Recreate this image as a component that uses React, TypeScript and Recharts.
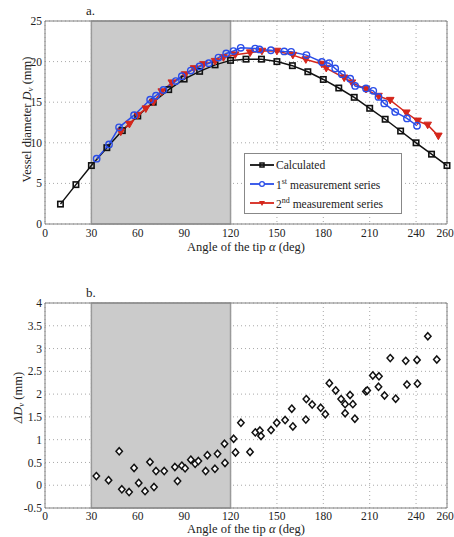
import React from "react";
import {
  ComposedChart,
  ScatterChart,
  Line,
  Scatter,
  XAxis,
  YAxis,
  CartesianGrid,
  ReferenceArea,
  Legend,
} from "recharts";

const FONT = "Liberation Serif, Times New Roman, Times, DejaVu Serif, serif";

// panel a: calculated diameter
const calcAngle = [10, 20, 30, 40, 50, 60, 70, 80, 90, 100, 110, 120, 130, 140, 150, 160, 170, 180, 190, 200, 210, 220, 230, 240, 250, 260];
const calcDiameter = [2.45, 4.85, 7.2, 9.4, 11.5, 13.3, 15.0, 16.55, 17.85, 18.8, 19.6, 20.15, 20.3, 20.3, 20.0, 19.5, 18.75, 17.8, 16.75, 15.6, 14.25, 12.9, 11.45, 10.0, 8.6, 7.2];

// 1st measurement series
const meas1Angle = [33.4, 41.4, 47.9, 57.6, 68, 71.8, 76.6, 84.6, 88.5, 94.3, 99.9, 105.9, 112.2, 117.2, 121.9, 126.6, 135.9, 138.7, 146.1, 154.7, 159.2, 169.1, 179.1, 183.8, 187.7, 192, 197.4, 200.6, 207.6, 212.3, 215.7, 219.4, 226.5, 234.1, 240.6];
const meas1Diameter = [8.05, 9.8, 11.9, 13.4, 15.3, 15.8, 16.5, 17.6, 18.2, 18.9, 19.4, 19.8, 20.5, 21.0, 21.3, 21.7, 21.6, 21.5, 21.4, 21.25, 21.2, 20.8, 19.95, 19.8, 19.15, 18.45, 17.9, 17.0, 16.7, 16.4, 15.65, 14.85, 13.8, 13.0, 12.1];

// 2nd measurement series
const meas2Angle = [49, 54.6, 60, 65.2, 70.1, 75.5, 82, 90.6, 96.4, 102.5, 110, 115.4, 123, 132.7, 140.3, 150, 160.3, 168.7, 179.1, 181.9, 193.5, 198.5, 207.6, 215.7, 223.3, 233.7, 241, 247.5, 254.4];
const meas2Diameter = [11.35, 12.3, 13.4, 14.2, 15.0, 16.3, 17.4, 18.4, 19.15, 19.65, 20.05, 20.5, 20.85, 21.1, 21.3, 21.3, 20.8, 20.25, 19.7, 19.2, 18.0, 17.4, 16.6, 15.75, 15.25, 13.7, 12.7, 12.2, 10.85];

// panel b: difference
const deltaAngle = [33.2, 41.1, 48, 49.7, 54.4, 57.6, 60.6, 64.7, 67.9, 70.5, 71.8, 77.1, 84, 85.7, 88.5, 90.6, 94.3, 97.1, 99.2, 103.9, 105, 109.9, 111.6, 116.1, 116.4, 122, 123.2, 126.7, 132.6, 136, 139, 139.7, 146.2, 149.9, 155.3, 159.6, 160.3, 168.7, 169, 172.8, 178.3, 181.3, 183.9, 188, 191.5, 194.1, 194.1, 197.3, 199.1, 200.4, 207.5, 208.4, 212, 216, 215.7, 219.6, 223.3, 226.8, 233.3, 234.1, 240.6, 240.9, 247.6, 253.4];
const deltaValue = [0.2, 0.11, 0.745, -0.09, -0.15, 0.38, 0.05, -0.13, 0.51, -0.04, 0.31, 0.31, 0.4, 0.09, 0.43, 0.37, 0.56, 0.47, 0.53, 0.31, 0.66, 0.36, 0.69, 0.91, 0.49, 1.02, 0.72, 1.37, 0.73, 1.16, 1.2, 1.08, 1.21, 1.37, 1.43, 1.68, 1.29, 1.44, 1.89, 1.77, 1.7, 1.56, 2.24, 2.08, 1.89, 1.78, 1.58, 1.98, 1.78, 1.46, 2.06, 2.08, 2.41, 2.39, 2.16, 1.97, 2.79, 1.9, 2.73, 2.21, 2.75, 2.23, 3.27, 2.76];

const xTicks = [0, 30, 60, 90, 120, 150, 180, 210, 240, 260];
const topYTicks = [0, 5, 10, 15, 20, 25];
const bottomYTicks = [-0.5, 0, 0.5, 1, 1.5, 2, 2.5, 3, 3.5, 4];
const shadeFrom = 30;
const shadeTo = 120;

const calcData = calcAngle.map((a, i) => ({ angle: a, d: calcDiameter[i] }));
const meas1Data = meas1Angle.map((a, i) => ({ angle: a, d: meas1Diameter[i] }));
const meas2Data = meas2Angle.map((a, i) => ({ angle: a, d: meas2Diameter[i] }));
const deltaData = deltaAngle.map((a, i) => ({ angle: a, delta: deltaValue[i] }));

const BLACK = "#111";
const BLUE = "#2a4de8";
const RED = "#d5261b";
const tickStyle = { fontSize: 11.5, fill: "#222", fontFamily: FONT };

// x tick: keep the last label inside the page
const XTick = (props: any) => {
  const x = Math.min(props.x, 445);
  return (
    <text x={x} y={props.y} dy="0.71em" textAnchor="middle" fontSize={11.5} fill="#222" style={{ fontFamily: FONT }}>
      {props.payload.value}
    </text>
  );
};

const squareDot = (p: any) => (
  <rect key={`s-${p.index}`} x={p.cx - 2.7} y={p.cy - 2.7} width={5.4} height={5.4} fill="none" stroke={BLACK} strokeWidth={1.6} />
);
const circleDot = (p: any) => (
  <circle key={`c-${p.index}`} cx={p.cx} cy={p.cy} r={3.2} fill="none" stroke={BLUE} strokeWidth={1.4} />
);
const triDot = (p: any) => (
  <path key={`t-${p.index}`} d={`M${p.cx - 3.8},${p.cy - 2.8}L${p.cx + 3.8},${p.cy - 2.8}L${p.cx},${p.cy + 3.8}Z`} fill={RED} stroke={RED} strokeWidth={1} />
);
const diamond = (p: any) => (
  <path d={`M${p.cx},${p.cy - 3.6}L${p.cx + 3.2},${p.cy}L${p.cx},${p.cy + 3.6}L${p.cx - 3.2},${p.cy}Z`} fill="#fff" stroke={BLACK} strokeWidth={1.5} />
);

const XLabel = (props: any) => {
  const vb = props.viewBox;
  return (
    <text x={vb.x + vb.width / 2} y={vb.y + vb.height - 4} textAnchor="middle" style={{ fontFamily: FONT }} fontSize={12.5} fill="#222">
      {"Angle of the tip "}
      <tspan fontStyle="italic">α</tspan>
      {" (deg)"}
    </text>
  );
};

const TopYLabel = (props: any) => {
  const vb = props.viewBox;
  const cx = 27;
  const cy = vb.y + vb.height / 2 - 3;
  return (
    <text x={cx} y={cy} transform={`rotate(-90 ${cx} ${cy})`} textAnchor="middle" dominantBaseline="central" style={{ fontFamily: FONT }} fontSize={12.5} fill="#222">
      {"Vessel diameter "}
      <tspan fontStyle="italic">D</tspan>
      <tspan fontStyle="italic" fontSize={9} dy={3}>v</tspan>
      <tspan dy={-3}>{" (mm)"}</tspan>
    </text>
  );
};

const BottomYLabel = (props: any) => {
  const vb = props.viewBox;
  const cx = 18;
  const cy = vb.y + vb.height / 2 - 8;
  return (
    <text x={cx} y={cy} transform={`rotate(-90 ${cx} ${cy})`} textAnchor="middle" dominantBaseline="central" style={{ fontFamily: FONT }} fontSize={12.5} fill="#222">
      <tspan fontStyle="italic">ΔD</tspan>
      <tspan fontStyle="italic" fontSize={9} dy={3}>v</tspan>
      <tspan dy={-3}>{" (mm)"}</tspan>
    </text>
  );
};

const legendRows = [
  { color: BLACK, marker: "square", label: "Calculated", sup: "", pre: "" },
  { color: BLUE, marker: "circle", label: " measurement series", sup: "st", pre: "1" },
  { color: RED, marker: "tri", label: " measurement series", sup: "nd", pre: "2" },
];

const LegendBox = () => (
  <div style={{ border: "1px solid #888", background: "#fff", fontFamily: FONT, fontSize: 11.5, color: "#222", padding: "1px 0 1px 0", boxSizing: "border-box", width: 158 }}>
    {legendRows.map((r) => (
      <div key={r.label + r.sup} style={{ display: "flex", alignItems: "center", height: 19 }}>
        <svg width={26} height={12} style={{ marginLeft: 4, flex: "none" }}>
          <line x1={1} y1={6} x2={25} y2={6} stroke={r.color} strokeWidth={1.8} />
          {r.marker === "square" && <rect x={11} y={4} width={4} height={4} fill="none" stroke={r.color} strokeWidth={1.5} />}
          {r.marker === "circle" && <circle cx={13} cy={6} r={2.4} fill="#fff" stroke={r.color} strokeWidth={1.3} />}
          {r.marker === "tri" && <path d="M10,4L16,4L13,9Z" fill={r.color} />}
        </svg>
        <span style={{ marginLeft: 1, whiteSpace: "nowrap" }}>
          {r.pre}
          {r.sup && <sup style={{ fontSize: 8 }}>{r.sup}</sup>}
          {r.label}
        </span>
      </div>
    ))}
  </div>
);

export default function App() {
  return (
    <div style={{ position: "absolute", left: 0, top: 0, width: 454, height: 537, background: "#fff", overflow: "hidden", fontFamily: FONT }}>
      <div style={{ position: "absolute", left: 86, top: 3, fontFamily: FONT, fontSize: 13, color: "#222" }}>a.</div>
      <div style={{ position: "absolute", left: 0, top: 0 }}>
        <ComposedChart width={454} height={255} margin={{ top: 21, right: 7, bottom: 0, left: 0 }} style={{ fontFamily: FONT }}>
          <ReferenceArea x1={shadeFrom} x2={shadeTo} y1={0} y2={25} fill="#cbcbcb" fillOpacity={1} stroke="#9a9a9a" strokeWidth={1.5} />
          <CartesianGrid stroke="#a8a8a8" strokeDasharray="1 3" zIndex={50} />
          <ReferenceArea x1={0} x2={260} y1={0} y2={25} fill="none" stroke="#808080" />
          <XAxis dataKey="angle" type="number" domain={[0, 260]} ticks={xTicks} interval={0} height={31} axisLine={false} tickLine={false} tickSize={0} tickMargin={5} tick={<XTick />} allowDuplicatedCategory={false} label={<XLabel />} />
          <YAxis type="number" domain={[0, 25]} ticks={topYTicks} interval={0} width={45} axisLine={false} tickLine={false} tickSize={0} tickMargin={3} tick={tickStyle} label={<TopYLabel />} />
          <Line data={calcData} dataKey="d" stroke={BLACK} strokeWidth={1.5} dot={squareDot} isAnimationActive={false} />
          <Line data={meas2Data} dataKey="d" stroke={RED} strokeWidth={1.5} dot={triDot} isAnimationActive={false} />
          <Line data={meas1Data} dataKey="d" stroke={BLUE} strokeWidth={1.5} dot={circleDot} isAnimationActive={false} />
          <Legend layout="vertical" align="center" verticalAlign="middle" wrapperStyle={{ left: 244, top: 153, width: 158 }} content={<LegendBox />} />
        </ComposedChart>
      </div>
      <div style={{ position: "absolute", left: 86, top: 285, fontFamily: FONT, fontSize: 13, color: "#222" }}>b.</div>
      <div style={{ position: "absolute", left: 0, top: 270 }}>
        <ScatterChart width={454} height={267} margin={{ top: 33, right: 7, bottom: 0, left: 0 }} style={{ fontFamily: FONT }}>
          <ReferenceArea x1={shadeFrom} x2={shadeTo} y1={-0.5} y2={4} fill="#cbcbcb" fillOpacity={1} stroke="#9a9a9a" strokeWidth={1.5} />
          <CartesianGrid stroke="#a8a8a8" strokeDasharray="1 3" zIndex={50} />
          <ReferenceArea x1={0} x2={260} y1={-0.5} y2={4} fill="none" stroke="#808080" />
          <XAxis dataKey="angle" type="number" domain={[0, 260]} ticks={xTicks} interval={0} height={29} axisLine={false} tickLine={false} tickSize={0} tickMargin={4} tick={<XTick />} label={<XLabel />} />
          <YAxis dataKey="delta" type="number" domain={[-0.5, 4]} ticks={bottomYTicks} interval={0} width={45} axisLine={false} tickLine={false} tickSize={0} tickMargin={3} tick={tickStyle} label={<BottomYLabel />} />
          <Scatter data={deltaData} dataKey="delta" shape={diamond} isAnimationActive={false} />
        </ScatterChart>
      </div>
    </div>
  );
}
